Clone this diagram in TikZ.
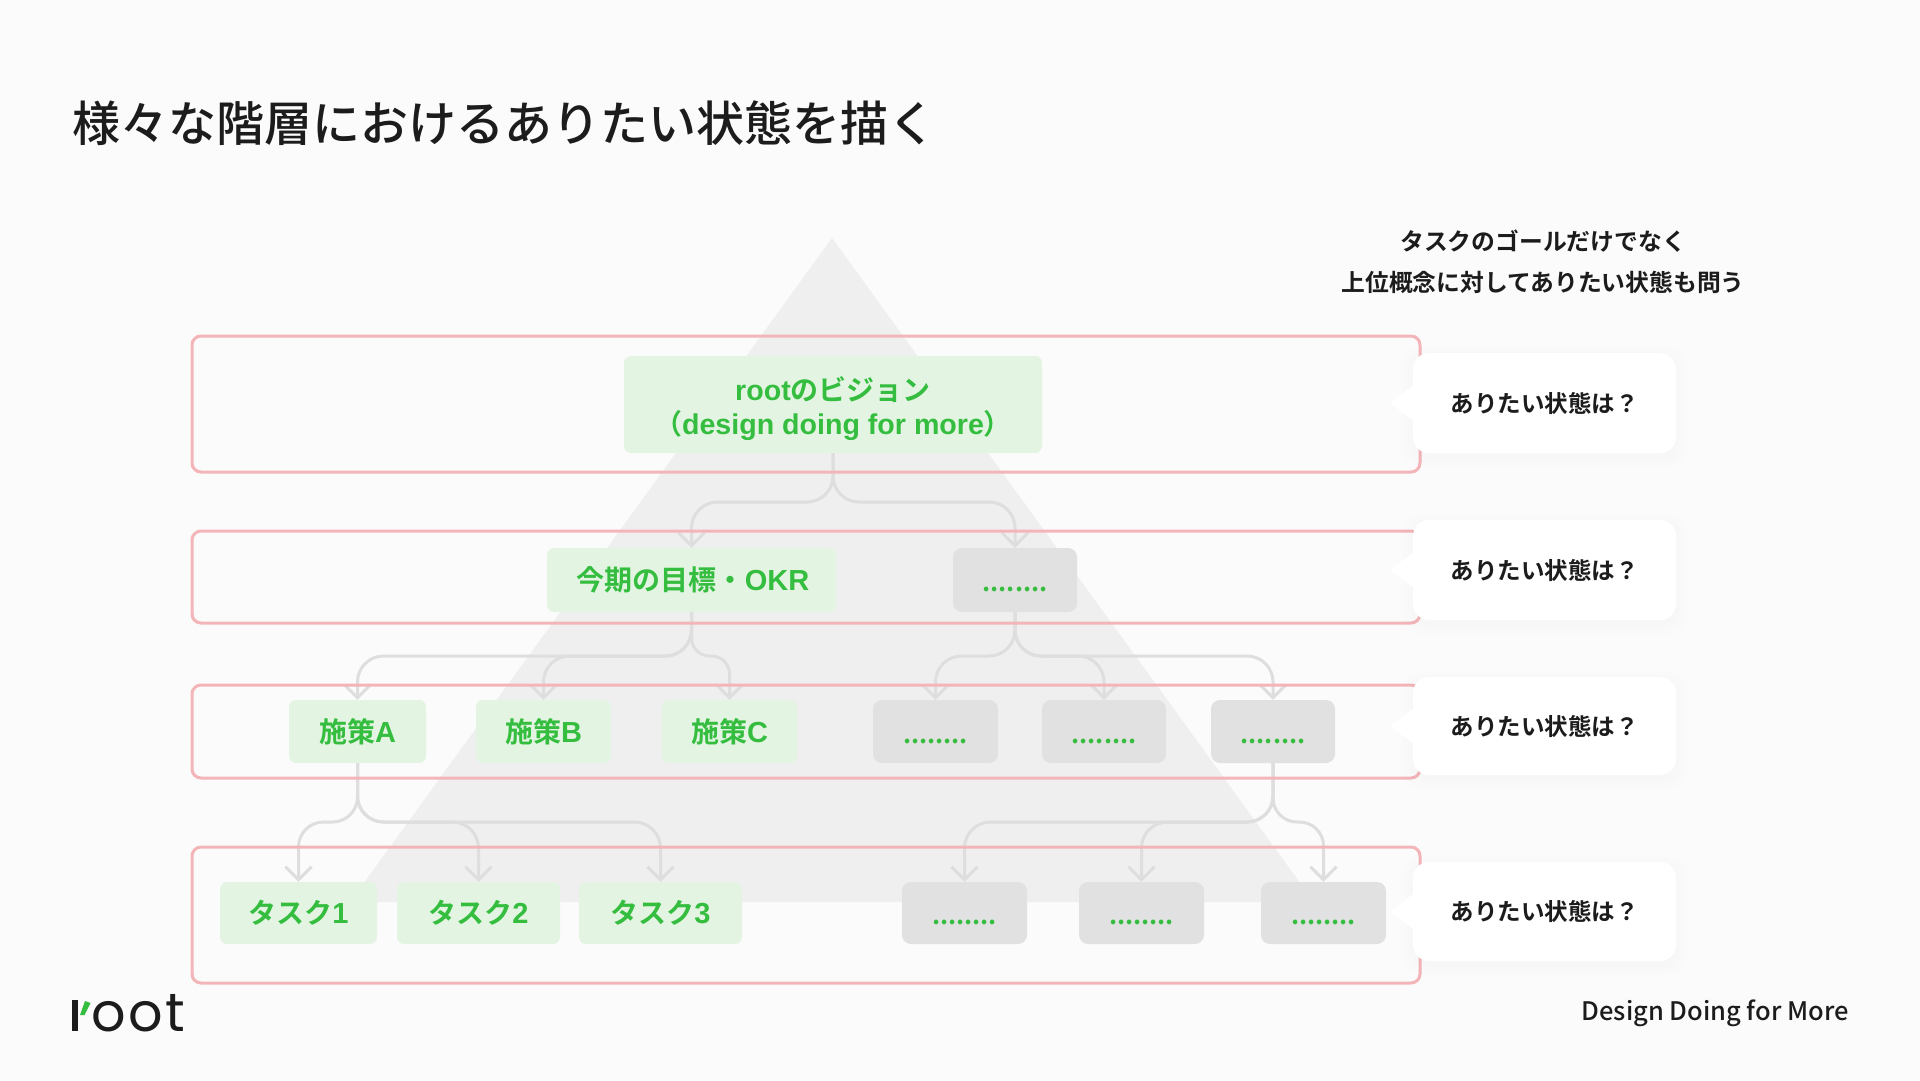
\documentclass[tikz,border=0pt]{standalone}
\usepackage{fontspec}
\usetikzlibrary{arrows.meta}
\setmainfont{Noto Sans CJK JP}
\newfontfamily\jpfont{Noto Sans CJK JP Medium}
\newfontfamily\jpmed{Noto Sans CJK JP Bold}
\newfontfamily\jptag{Noto Sans CJK JP Medium}
\newfontfamily\jpbold{Noto Sans CJK JP Bold}
\newfontfamily\latbold{Liberation Sans Bold}
\newfontfamily\logofont[LetterSpace=5]{Poppins}
\definecolor{bgc}{HTML}{FBFBFB}
\definecolor{tric}{HTML}{EFEFEF}
\definecolor{pinkc}{HTML}{F3B5B7}
\definecolor{greenc}{HTML}{35BD3F}
\definecolor{greenbg}{HTML}{E3F5E2}
\definecolor{grayc}{HTML}{E1E1E1}
\definecolor{connc}{HTML}{DEDEDE}
\definecolor{inkc}{HTML}{1C1C1C}
\tikzset{
  rowbox/.style={draw=pinkc,line width=3pt,rounded corners=9pt,inner sep=0pt},
  greenbox/.style={fill=greenbg,rounded corners=7pt,inner sep=0pt,text=greenc,align=center,font=\jpbold\fontsize{28}{34}\selectfont},
  graybox/.style={fill=grayc,rounded corners=9pt,inner sep=0pt,text=greenc,align=center,font=\jpbold\fontsize{25}{34}\selectfont},
  callout/.style={fill=white,rounded corners=16pt,inner sep=0pt,text=inkc,font=\jpmed\fontsize{23.5}{28}\selectfont},
  conn/.style={draw=connc,line width=3pt,rounded corners=26pt,-{Straight Barb[length=13pt,width=26pt,line width=3pt]}},
}
% name, style, x0, x1, y0, y1, text
\newcommand{\bx}[7]{\node[#2,minimum width={(#4-#3)*1pt},minimum height={(#6-#5)*1pt}] (#1) at ({(#3+#4)/2},{(#5+#6)/2}) {#7};}
\newcommand{\cnx}[4][26pt]{\draw[conn,rounded corners=#1] (#2.south) -- (#2.south |- 0,#4) -- (#3.north |- 0,#4) -- (#3.north);}
\newcommand{\ddd}{\vphantom{今}\raisebox{-2pt}{........}}
\newcommand{\lt}[1]{{\latbold\fontsize{29}{34}\selectfont #1}}
\newcommand{\lr}[1]{{\latbold\fontsize{28.6}{34}\selectfont #1}}
\newcommand{\coshadow}[4]{%
  \foreach \g in {2,5,8,11}{\fill[black,opacity=0.004,rounded corners=18pt] (#1-\g,#3-\g+4) rectangle (#2+\g,#4+\g+4);}}
\newcommand{\co}[3]{%
  \coshadow{1413}{1676}{#2}{#3}
  \bx{#1}{callout}{1413}{1676}{#2}{#3}{ありたい状態は？}
  \fill[white] ([yshift=18pt,xshift=1pt]#1.west) -- ([xshift=-23pt]#1.west) -- ([yshift=-18pt,xshift=1pt]#1.west) -- cycle;}
\begin{document}
\begin{tikzpicture}[x=1pt,y=-1pt]
\useasboundingbox (0,0) rectangle (1920,1080);
\fill[bgc] (0,0) rectangle (1920,1080);
% pyramid
\fill[tric] (832,238) -- (1314,902) -- (350,902) -- cycle;
% boxes
\bx{root}{greenbox}{624}{1042}{356}{453}{\rule{0pt}{33pt}\lr{root}のビジョン\\（\lr{design doing for more}）}
\bx{okr}{greenbox}{547}{836}{548}{612}{\hspace{3pt}今期の目標・\lt{OKR}}
\bx{gb}{graybox}{953}{1077}{548}{612}{\ddd}
\bx{sa}{greenbox}{289}{426}{700}{763}{施策\lt{A}}
\bx{sb}{greenbox}{476}{611}{700}{763}{施策\lt{B}}
\bx{sc}{greenbox}{662}{797}{700}{763}{施策\lt{C}}
\bx{ga}{graybox}{873}{998}{700}{763}{\ddd}
\bx{gc}{graybox}{1042}{1166}{700}{763}{\ddd}
\bx{gd}{graybox}{1211}{1335}{700}{763}{\ddd}
\bx{ta}{greenbox}{220}{377}{882}{944}{タスク\lt{1}}
\bx{tb}{greenbox}{397}{560}{882}{944}{タスク\lt{2}}
\bx{tc}{greenbox}{579}{742}{882}{944}{タスク\lt{3}}
\bx{ge}{graybox}{902}{1027}{882}{944}{\ddd}
\bx{gf}{graybox}{1079}{1204}{882}{944}{\ddd}
\bx{gg}{graybox}{1261}{1386}{882}{944}{\ddd}
% connectors
\cnx{root}{okr}{502}
\cnx{root}{gb}{502}
\cnx{okr}{sa}{656}
\cnx{okr}{sb}{656}
\cnx[18pt]{okr}{sc}{656}
\cnx{gb}{ga}{656}
\cnx{gb}{gc}{656}
\cnx{gb}{gd}{656}
\cnx[25pt]{sa}{ta}{822}
\cnx{sa}{tb}{822}
\cnx{sa}{tc}{822}
\cnx{gd}{ge}{822}
\cnx{gd}{gf}{822}
\cnx[24pt]{gd}{gg}{822}
% level frames
\bx{rowa}{rowbox}{192}{1420}{336}{472}{}
\bx{rowb}{rowbox}{192}{1420}{531}{623}{}
\bx{rowc}{rowbox}{192}{1420}{685}{778}{}
\bx{rowd}{rowbox}{192}{1420}{847}{983}{}
% callouts
\co{ca}{353}{453}
\co{cb}{520}{620}
\co{cc}{677}{775}
\co{cd}{862}{961}
% texts
\node[anchor=west,inner sep=0pt,text=inkc,font=\jpfont\fontsize{48}{56}\selectfont] (title) at (72,123.5) {様々な階層におけるありたい状態を描く};
\node[inner sep=0pt,text=inkc,align=center,font=\jpmed\fontsize{23.8}{41}\selectfont] (note) at (1543,262) {タスクのゴールだけでなく\\上位概念に対してありたい状態も問う};
\node[anchor=east,inner sep=0pt,text=inkc,font=\jptag\fontsize{25.5}{30}\selectfont] (tag) at (1849,1013) {Design Doing for More};
% logo
\fill[inkc] (72,1000) rectangle (77.5,1031);
\fill[greenc] (80,1015) -- (84.5,1015) -- (90.5,1003) -- (85,1001) -- cycle;
\node[anchor=base west,inner sep=0pt,text=inkc,font=\logofont\fontsize{54}{60}\selectfont] (logo) at (91,1031) {oot};
\end{tikzpicture}
\end{document}
